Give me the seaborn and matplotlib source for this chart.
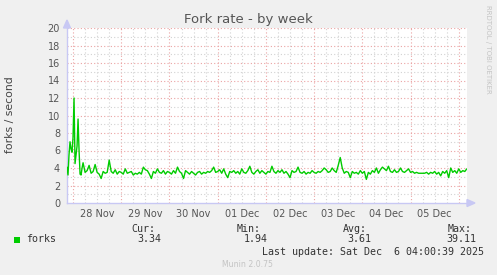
import numpy as np
import pandas as pd
import matplotlib
matplotlib.use("Agg")
import matplotlib.pyplot as plt
import seaborn as sns
from matplotlib.patches import Rectangle

# ---- data ----
start_time = "2025-11-27 21:00"
# first 8 hours at half-hour resolution
early_values = [4.1, 3.2, 5.5, 7.0, 6.2, 5.8, 7.5, 12.0, 4.5, 5.5, 6.5, 9.6,
                6.0, 3.3, 3.2, 4.0, 4.6]
# then hourly from hour 9 to hour 199
hourly_values = [
    3.5, 3.7, 4.3, 3.4, 3.6, 4.4, 3.5, 3.3, 2.8, 3.6, 3.4, 3.5, 4.9, 3.6, 3.4, 3.8,
    3.3, 3.6, 3.5, 3.3, 3.9, 3.4, 3.5, 3.6, 3.2, 3.4, 3.3, 3.5, 3.3, 4.1, 3.8, 3.7,
    3.3, 2.8, 3.6, 3.4, 3.9, 3.5, 3.4, 3.7, 3.3, 3.6, 3.5, 3.3, 3.7, 3.4, 4.1, 3.6,
    3.4, 2.8, 3.7, 3.5, 3.3, 3.6, 3.4, 3.2, 3.5, 3.6, 3.3, 3.5, 3.4, 3.6, 3.5, 3.7,
    4.1, 3.5, 3.6, 3.8, 3.4, 3.9, 3.3, 2.9, 3.6, 3.5, 3.7, 3.4, 3.6, 3.3, 3.9, 3.5,
    3.4, 3.7, 4.2, 3.5, 3.3, 3.6, 3.8, 3.4, 3.7, 3.5, 3.3, 3.6, 3.5, 4.2, 3.6, 3.4,
    3.7, 3.5, 3.8, 3.4, 3.6, 3.3, 2.9, 3.7, 3.5, 3.6, 4.1, 3.5, 3.4, 3.6, 3.3, 3.5,
    3.4, 3.7, 3.5, 3.4, 3.6, 3.5, 3.7, 4.0, 3.8, 3.5, 3.6, 4.0, 3.7, 3.5, 4.3, 5.2,
    4.0, 3.4, 3.6, 3.5, 2.9, 3.6, 3.4, 3.5, 3.3, 3.7, 3.4, 3.6, 2.7, 3.5, 3.3, 3.7,
    3.5, 4.0, 3.4, 3.8, 4.1, 3.9, 3.7, 4.2, 3.6, 3.5, 3.8, 3.5, 3.6, 4.0, 3.6, 3.5,
    3.7, 3.9, 3.5, 3.6, 3.4, 3.5, 3.4, 3.4, 3.4, 3.4, 3.5, 3.3, 3.5, 3.4, 3.6, 3.3,
    3.5, 3.1, 3.6, 3.4, 3.7, 2.9, 4.0, 3.5, 3.7, 3.4, 3.9, 3.5, 3.7, 3.6, 3.9,
]
day_labels = ["28 Nov", "29 Nov", "30 Nov", "01 Dec", "02 Dec", "03 Dec", "04 Dec", "05 Dec"]
series_name = "forks"
stat_names = ["Cur:", "Min:", "Avg:", "Max:"]
stat_values = ["3.34", "1.94", "3.61", "39.11"]
title = "Fork rate - by week"
ylabel = "forks / second"
last_update = "Last update: Sat Dec  6 04:00:39 2025"

t0 = pd.Timestamp(start_time)
offsets = list(np.arange(0, 8.5, 0.5)) + list(np.arange(9, 9 + len(hourly_values)))
times = [t0 + pd.Timedelta(hours=float(h)) for h in offsets]
df = pd.DataFrame({"time": times, "value": early_values + hourly_values})

# ---- figure ----
sns.set_style("white")
W, H = 497, 275
fig = plt.figure(figsize=(W / 100, H / 100), dpi=100, facecolor="#F0F0F0")
L, R, T, B = 67, 467, 28, 203
ax = fig.add_axes([L / W, 1 - B / H, (R - L) / W, (B - T) / H])
ax.set_facecolor("white")

xmin = t0
xmax = pd.Timestamp("2025-12-06 04:06")
ax.set_xlim(xmin, xmax)
ax.set_ylim(0, 20)

# grid
minor_col = "#d2d2d2"
major_col = "#eba3a3"
dot = (0, (1, 2))
t = pd.Timestamp("2025-11-28 00:00")
k = 0
tt = t - pd.Timedelta(hours=6) * 0
gt = pd.Timestamp("2025-11-27 00:00")
while gt < xmax:
    if gt > xmin:
        if gt.hour == 0:
            ax.axvline(gt, color=major_col, lw=0.8, ls=dot, zorder=1)
        else:
            ax.axvline(gt, color=minor_col, lw=0.8, ls=dot, zorder=1)
    gt += pd.Timedelta(hours=6)
for yv in range(1, 21):
    ax.axhline(yv, color=major_col if yv % 2 == 0 else minor_col, lw=0.8, ls=dot, zorder=1)

sns.lineplot(data=df, x="time", y="value", ax=ax, color="#00CC00", lw=1.0, zorder=3)

for s in ["top", "right"]:
    ax.spines[s].set_visible(False)
for s in ["left", "bottom"]:
    ax.spines[s].set_color("#c8c8f4")
    ax.spines[s].set_linewidth(1.0)

noon_ticks = [pd.Timestamp("2025-11-28 12:00") + pd.Timedelta(days=i) for i in range(len(day_labels))]
ax.set_xticks(noon_ticks)
ax.set_xticklabels(day_labels)
ax.set_yticks(range(0, 21, 2))
ax.set_yticklabels([str(v) for v in range(0, 21, 2)])
ax.tick_params(axis="x", length=0, pad=4.5, labelsize=7, labelcolor="#555555")
ax.tick_params(axis="y", length=0, pad=5, labelsize=7, labelcolor="#555555")
ax.set_xlabel("")
ax.set_ylabel("")

# axis arrows
fig.patches.append(plt.Polygon([[(L - 3.5) / W, 1 - 28 / H], [(L + 3.5) / W, 1 - 28 / H], [L / W, 1 - 20 / H]],
                               closed=True, transform=fig.transFigure, color="#c8c8f4", zorder=5))
fig.patches.append(plt.Polygon([[467 / W, 1 - (B - 3.5) / H], [467 / W, 1 - (B + 3.5) / H], [475 / W, 1 - B / H]],
                               closed=True, transform=fig.transFigure, color="#c8c8f4", zorder=5))
fig.add_artist(plt.Line2D([R / W, 468 / W], [1 - B / H, 1 - B / H], color="#c8c8f4", lw=1.0,
                          transform=fig.transFigure))

def px(x, y):
    return x / W, 1 - y / H

fig.text(*px(248, 23), title, ha="center", va="baseline", fontsize=9.5, color="#555555")
fig.text(*px(10, 115), ylabel, ha="center", va="center", rotation=90, fontsize=7.8, color="#444444")
fig.text(*px(488, 5), "RRDTOOL / TOBI OETIKER", ha="center", va="top", rotation=270,
         fontsize=5, color="#c4c4c4")

mono = "DejaVu Sans Mono"
fig.patches.append(Rectangle(px(14, 242.5), 6 / W, 6 / H, transform=fig.transFigure,
                             facecolor="#00CC00", edgecolor="none"))
fig.text(*px(26.5, 242.5), series_name, ha="left", va="baseline", fontsize=7.2, family=mono, color="#333333")
name_x = [131.5, 237, 342.5, 447.5]
val_x = [137.5, 243.5, 347.5, 446.5]
for nm, vv, nx, vx in zip(stat_names, stat_values, name_x, val_x):
    fig.text(*px(nx, 231.5), nm, ha="left", va="baseline", fontsize=7.2, family=mono, color="#333333")
    fig.text(*px(vx, 242.5), vv, ha="left", va="baseline", fontsize=7.2, family=mono, color="#333333")
fig.text(*px(261.5, 255), last_update, ha="left", va="baseline", fontsize=7.2, family=mono, color="#333333")
fig.text(*px(247, 267), "Munin 2.0.75", ha="center", va="baseline", fontsize=5.6, color="#c4c4c4")

fig.savefig("out.png", dpi=100, facecolor=fig.get_facecolor())
